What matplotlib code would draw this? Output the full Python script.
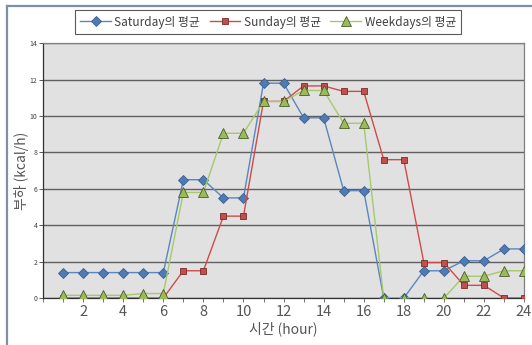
import matplotlib
matplotlib.use("Agg")
import matplotlib.pyplot as plt
from matplotlib.lines import Line2D
from matplotlib.ticker import MultipleLocator

plt.rcParams['font.family'] = ['Noto Sans CJK KR', 'DejaVu Sans']

# hourly mean load (kcal/h)
hours = list(range(1, 25))
saturday = [1.4, 1.4, 1.4, 1.4, 1.4, 1.4, 6.5, 6.5, 5.5, 5.5, 11.8, 11.8,
            9.9, 9.9, 5.9, 5.9, 0.0, 0.0, 1.5, 1.5, 2.05, 2.05, 2.7, 2.7]
sunday = [0.0, 0.0, 0.0, 0.0, 0.0, 0.0, 1.5, 1.5, 4.5, 4.5, 10.8, 10.8,
          11.65, 11.65, 11.35, 11.35, 7.6, 7.6, 1.95, 1.95, 0.7, 0.7, 0.0, 0.0]
weekdays = [0.15, 0.15, 0.15, 0.15, 0.25, 0.25, 5.8, 5.8, 9.05, 9.05, 10.8, 10.8,
            11.4, 11.4, 9.6, 9.6, 0.0, 0.0, 0.0, 0.0, 1.2, 1.2, 1.5, 1.5]
series_names = ['Saturday의 평균', 'Sunday의 평균', 'Weekdays의 평균']

fig = plt.figure(figsize=(5.32, 3.45), dpi=100)
ax = fig.add_axes([0.081, 0.136, 0.904, 0.739])
ax.set_facecolor('#e1e1e1')

ax.plot(hours, saturday, color='#5a86c0', lw=1.0, marker='D', ms=5.5,
        mfc='#4f7bb5', mec='#3a5f90', mew=0.6, label=series_names[0], zorder=3)
ax.plot(hours, sunday, color='#d04b48', lw=1.0, marker='s', ms=5,
        mfc='#c0504d', mec='#7a2a28', mew=0.6, label=series_names[1], zorder=3)
ax.plot(hours, weekdays, color='#a6c96a', lw=1.0, marker='^', ms=6.5,
        mfc='#9bbb59', mec='#4a5c2a', mew=0.6, label=series_names[2], zorder=3)

ax.set_xlim(0, 24)
ax.set_ylim(0, 14)
ax.xaxis.set_minor_locator(MultipleLocator(1))
ax.yaxis.set_major_locator(MultipleLocator(2))
ax.set_xticks(range(2, 25, 2))
ax.set_xticklabels([str(v) for v in range(2, 25, 2)])
ax.tick_params(axis='x', labelsize=10.5, colors='#606060', length=3, width=0.6,
               labelcolor='#555555', pad=2)
ax.tick_params(axis='x', which='minor', length=3, width=0.6, color='#606060')
ax.tick_params(axis='y', labelsize=5, length=3, width=0.6, color='#404040',
               labelcolor='#404040', pad=1)
ax.grid(axis='y', color='#606060', lw=1.0)
ax.set_axisbelow(True)
for side in ['left', 'bottom']:
    ax.spines[side].set_color('#303030')
    ax.spines[side].set_linewidth(0.9)
for side in ['right', 'top']:
    ax.spines[side].set_color('#808080')
    ax.spines[side].set_linewidth(0.9)

ax.set_xlabel('시간 (hour)', fontsize=10, color='#555555', labelpad=2)
ax.set_ylabel('부하 (kcal/h)', fontsize=10, color='#555555')
ax.yaxis.set_label_coords(-0.03, 0.5)

leg = fig.legend(loc='center', bbox_to_anchor=(0.504, 0.936), ncol=3,
                 fontsize=8.5, frameon=True, fancybox=False,
                 edgecolor='#303030', handlelength=2.6, columnspacing=0.8,
                 handletextpad=0.3, borderpad=0.45)
leg.get_frame().set_linewidth(0.8)
for t in leg.get_texts():
    t.set_color('#404040')

# outer chart frame (left and top edges)
fig.add_artist(Line2D([0.0132, 0.0132], [0.0, 0.983], transform=fig.transFigure,
                      color='#7d8fa6', lw=1.6))
fig.add_artist(Line2D([0.0132, 1.0], [0.983, 0.983], transform=fig.transFigure,
                      color='#7d8fa6', lw=1.6))

fig.savefig('out.png', dpi=100)
